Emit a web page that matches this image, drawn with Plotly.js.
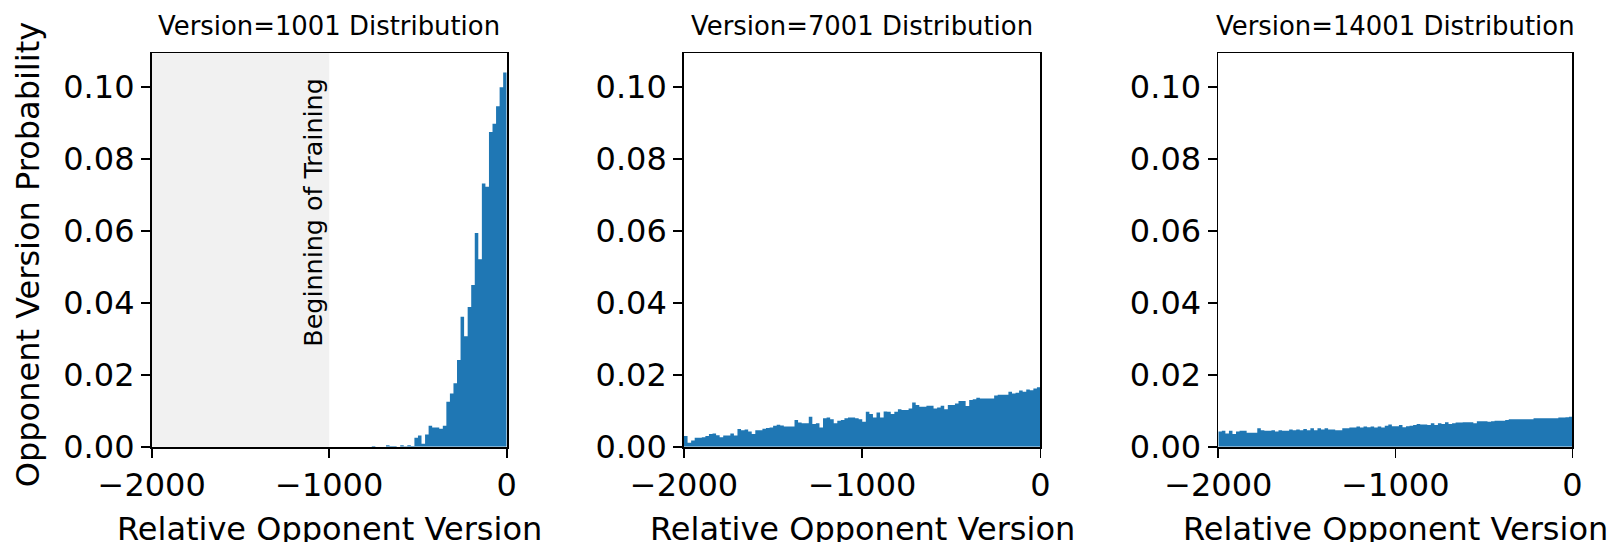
<!DOCTYPE html>
<html>
<head>
<meta charset="utf-8">
<script src="https://cdn.plot.ly/plotly-3.0.1.min.js"></script>
<style>
  html, body { margin: 0; padding: 0; background: #ffffff; }
  #chart { width: 1611px; height: 542px; }
</style>
</head>
<body>
<div id="chart"></div>
<script>
// Opponent sampling distributions over relative version, 100 bins of width 20 from -2000 to 0.
const binStart = -2000;
const binWidth = 20;
const binCount = 100;

const panelTitles = ["Version=1001 Distribution", "Version=7001 Distribution", "Version=14001 Distribution"];

// Version 1001: only the last 1000 versions exist
const probV1001 = [
  0, 0, 0, 0, 0, 0, 0, 0, 0, 0,
  0, 0, 0, 0, 0, 0, 0, 0, 0, 0,
  0, 0, 0, 0, 0, 0, 0, 0, 0, 0,
  0, 0, 0, 0, 0, 0, 0, 0, 0, 0,
  0, 0, 0, 0, 0, 0, 0, 0, 0, 0,
  0, 0, 0, 0, 0, 0, 0, 0, 0, 0,
  0, 0,
  0.0002, 0, 0, 0, 0.0004, 0.0002, 0.0002, 0, 0.0004, 0.0001,
  0.0004, 0.0002, 0.0025, 0.0031, 0.0008, 0.0034, 0.0058, 0.0053, 0.0053, 0.0050,
  0.0058, 0.0125, 0.0148, 0.0176, 0.0241, 0.0361, 0.0307, 0.0388, 0.0449, 0.0594,
  0.0521, 0.0731, 0.0722, 0.0874, 0.0897, 0.0946, 0.0999, 0.1040
];

const probV7001 = [
  0.0030, 0.0011, 0.0017, 0.0025, 0.0025, 0.0026, 0.0030, 0.0035, 0.0037, 0.0032,
  0.0026, 0.0031, 0.0031, 0.0037, 0.0031, 0.0049, 0.0046, 0.0048, 0.0042, 0.0035,
  0.0046, 0.0046, 0.0050, 0.0052, 0.0053, 0.0058, 0.0061, 0.0059, 0.0056, 0.0056,
  0.0056, 0.0074, 0.0067, 0.0065, 0.0065, 0.0083, 0.0063, 0.0065, 0.0053, 0.0079,
  0.0081, 0.0076, 0.0065, 0.0072, 0.0074, 0.0079, 0.0081, 0.0081, 0.0079, 0.0076,
  0.0069, 0.0097, 0.0091, 0.0081, 0.0095, 0.0081, 0.0098, 0.0097, 0.0091, 0.0097,
  0.0104, 0.0102, 0.0102, 0.0106, 0.0123, 0.0116, 0.0111, 0.0111, 0.0114, 0.0114,
  0.0106, 0.0109, 0.0114, 0.0104, 0.0116, 0.0116, 0.0120, 0.0127, 0.0127, 0.0113,
  0.0130, 0.0132, 0.0136, 0.0134, 0.0134, 0.0134, 0.0134, 0.0142, 0.0144, 0.0144,
  0.0144, 0.0153, 0.0148, 0.0150, 0.0156, 0.0153, 0.0159, 0.0157, 0.0162, 0.0165
];

const probV14001 = [
  0.0042, 0.0044, 0.0037, 0.0044, 0.0035, 0.0042, 0.0044, 0.0044, 0.0039, 0.0039,
  0.0039, 0.0051, 0.0046, 0.0044, 0.0044, 0.0046, 0.0042, 0.0046, 0.0044, 0.0044,
  0.0048, 0.0046, 0.0048, 0.0046, 0.0049, 0.0046, 0.0051, 0.0046, 0.0051, 0.0048,
  0.0051, 0.0048, 0.0048, 0.0046, 0.0046, 0.0051, 0.0051, 0.0053, 0.0053, 0.0056,
  0.0053, 0.0056, 0.0054, 0.0056, 0.0053, 0.0056, 0.0053, 0.0058, 0.0062, 0.0057,
  0.0057, 0.0060, 0.0054, 0.0057, 0.0058, 0.0060, 0.0063, 0.0062, 0.0062, 0.0060,
  0.0065, 0.0060, 0.0065, 0.0063, 0.0068, 0.0063, 0.0065, 0.0067, 0.0067, 0.0068,
  0.0068, 0.0068, 0.0065, 0.0071, 0.0071, 0.0071, 0.0069, 0.0071, 0.0072, 0.0072,
  0.0072, 0.0074, 0.0076, 0.0076, 0.0076, 0.0076, 0.0076, 0.0076, 0.0076, 0.0079,
  0.0079, 0.0079, 0.0079, 0.0079, 0.0079, 0.0079, 0.0081, 0.0081, 0.0082, 0.0083
];

const xTickVals = [-2000, -1000, 0];
const xTickText = ["\u22122000", "\u22121000", "0"];
const yTickVals = [0, 0.02, 0.04, 0.06, 0.08, 0.10];
const yTickText = ["0.00", "0.02", "0.04", "0.06", "0.08", "0.10"];

const xAxisTitle = "Relative Opponent Version";
const yAxisTitle = "Opponent Version Probability";
const trainingStartLabel = "Beginning of Training";
const trainingStart = -1000;

// Bin edges: each bin's left edge, plus the closing right edge
const binEdges = [];
for (let i = 0; i <= binCount; i++) binEdges.push(binStart + binWidth * i);

const FONT = "DejaVu Sans, Liberation Sans, sans-serif";
const BLUE = "#1f77b4";
const series = [probV1001, probV7001, probV14001];

// Panel placement on the page (paper fractions)
const xDomains = [[0.09417, 0.31453], [0.42458, 0.64587], [0.75624, 0.97610]];
const yDomain = [0.17583, 0.90166];

// Each histogram is drawn as one filled step outline so adjacent bins have no seams
const traces = series.map((vals, i) => ({
  type: "scatter",
  mode: "lines",
  x: binEdges,
  y: vals.concat([vals[vals.length - 1]]),
  line: { shape: "hv", width: 0, color: BLUE },
  fill: "tozeroy",
  fillcolor: BLUE,
  xaxis: i === 0 ? "x" : "x" + (i + 1),
  yaxis: i === 0 ? "y" : "y" + (i + 1),
  hoverinfo: "x+y",
  showlegend: false
}));

const layout = {
  width: 1611,
  height: 542,
  margin: { l: 0, r: 0, t: 0, b: 0 },
  paper_bgcolor: "#ffffff",
  plot_bgcolor: "#ffffff",
  font: { family: FONT, color: "#000000", size: 32 },
  shapes: [{
    type: "rect", xref: "x", yref: "paper",
    x0: binStart, x1: trainingStart, y0: yDomain[0], y1: yDomain[1],
    fillcolor: "#f1f1f1", line: { width: 0 }, layer: "below"
  }],
  annotations: []
};

for (let i = 0; i < 3; i++) {
  const sfx = i === 0 ? "" : String(i + 1);
  layout["xaxis" + sfx] = {
    domain: xDomains[i],
    anchor: "y" + sfx,
    range: [binStart, 0],
    tickvals: xTickVals, ticktext: xTickText,
    ticks: "outside", ticklen: 9, tickwidth: 1.8, tickcolor: "#000000",
    showline: true, mirror: true, linecolor: "#000000", linewidth: 1.8,
    showgrid: false, zeroline: false,
    tickfont: { family: FONT, size: 32, color: "#000000" }
  };
  layout["yaxis" + sfx] = {
    domain: yDomain,
    anchor: "x" + sfx,
    range: [0, 0.1093],
    tickvals: yTickVals, ticktext: yTickText,
    ticks: "outside", ticklen: 9, tickwidth: 1.8, tickcolor: "#000000",
    showline: true, mirror: true, linecolor: "#000000", linewidth: 1.8,
    showgrid: false, zeroline: false,
    tickfont: { family: FONT, size: 32, color: "#000000" }
  };
  const cx = (xDomains[i][0] + xDomains[i][1]) / 2;
  layout.annotations.push({
    text: panelTitles[i], xref: "paper", yref: "paper",
    x: cx, y: 0.9528, xanchor: "center", yanchor: "middle",
    showarrow: false, font: { family: FONT, size: 25.9, color: "#000000" }
  });
  layout.annotations.push({
    text: xAxisTitle, xref: "paper", yref: "paper",
    x: cx, y: 0.024, xanchor: "center", yanchor: "middle",
    showarrow: false, font: { family: FONT, size: 32, color: "#000000" }
  });
}

layout.annotations.push({
  text: yAxisTitle, xref: "paper", yref: "paper",
  x: 0.0172, y: 0.5304, xanchor: "center", yanchor: "middle",
  textangle: -90, showarrow: false,
  font: { family: FONT, size: 32, color: "#000000" }
});

layout.annotations.push({
  text: trainingStartLabel, xref: "x", yref: "y",
  x: -1088, y: 0.0649, xanchor: "center", yanchor: "middle",
  textangle: -90, showarrow: false,
  font: { family: FONT, size: 25.4, color: "#000000" }
});

Plotly.newPlot("chart", traces, layout, { displayModeBar: false, staticPlot: true });
</script>
</body>
</html>
